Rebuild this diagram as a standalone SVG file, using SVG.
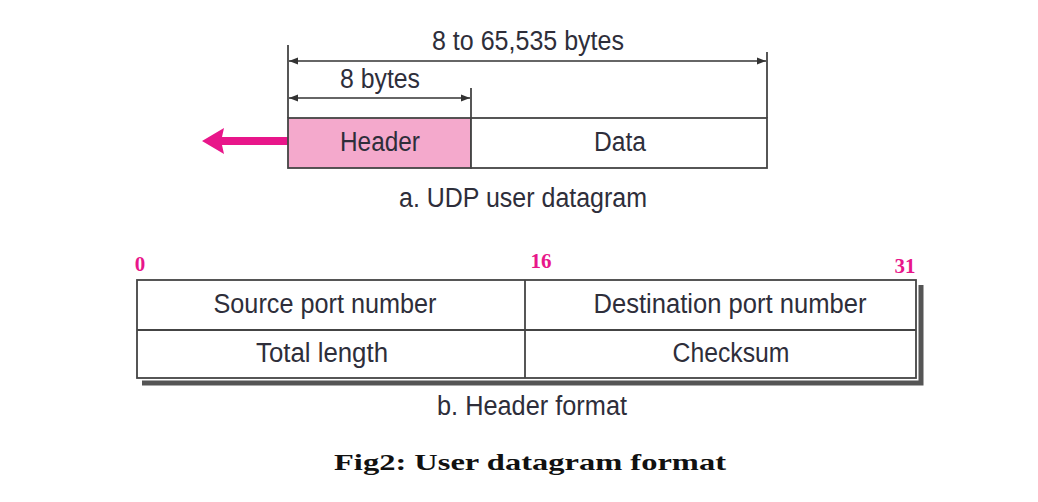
<svg xmlns="http://www.w3.org/2000/svg" width="1038" height="502" viewBox="0 0 1038 502">
<style>
.t{font-family:"Liberation Sans",Arial,sans-serif;font-size:27px;fill:#2e2e3a;text-anchor:middle}
.n{font-family:"Liberation Serif","Times New Roman",serif;font-size:21px;font-weight:bold;fill:#e8168a;text-anchor:middle}
.ln{stroke:#444;stroke-width:1.8}
.dim{stroke:#333;stroke-width:1.5;fill:none;marker-start:url(#ah);marker-end:url(#ah)}
</style>
<defs>
<marker id="ah" viewBox="0 0 10 10" refX="10" refY="5" markerWidth="9" markerHeight="9" markerUnits="userSpaceOnUse" orient="auto-start-reverse">
<path d="M0,1 L10,5 L0,9 Z" fill="#333"/>
</marker>
</defs>
<rect width="1038" height="502" fill="#fff"/>
<g id="connectors">
<line class="ln" x1="288" y1="45" x2="288" y2="118"/>
<line class="ln" x1="767" y1="52" x2="767" y2="118"/>
<line class="ln" x1="471" y1="88" x2="471" y2="118"/>
<line class="dim" x1="289" y1="61" x2="766" y2="61"/>
<line class="dim" x1="289" y1="98" x2="470" y2="98"/>
<path d="M288,137 L222,137 L224,128 L202,141 L224,154 L222,145 L288,145 Z" fill="#e8168a"/>
</g>
<g id="dim-labels">
<text class="t" x="528" y="50" textLength="192" lengthAdjust="spacingAndGlyphs">8 to 65,535 bytes</text>
<text class="t" x="380" y="88" textLength="80" lengthAdjust="spacingAndGlyphs">8 bytes</text>
</g>
<g id="header-box">
<rect x="288" y="118" width="183" height="50" style="fill:#f4a9cc" class="ln"/>
<text class="t" x="380" y="151" textLength="80" lengthAdjust="spacingAndGlyphs">Header</text>
</g>
<g id="data-box">
<rect x="471" y="118" width="296" height="50" style="fill:#fff" class="ln"/>
<text class="t" x="620" y="151" textLength="52" lengthAdjust="spacingAndGlyphs">Data</text>
</g>
<text class="t" x="523" y="207" textLength="248" lengthAdjust="spacingAndGlyphs">a. UDP user datagram</text>
<g id="bit-labels">
<text class="n" x="140" y="271">0</text>
<text class="n" x="541" y="268">16</text>
<text class="n" x="905" y="273">31</text>
</g>
<g id="header-table">
<path d="M142,383 L921,383 L921,285" stroke="#555" stroke-width="5" fill="none"/>
<rect x="137" y="280" width="779" height="98" style="fill:#fff" class="ln"/>
<line class="ln" x1="137" y1="330" x2="916" y2="330"/>
<line class="ln" x1="525" y1="280" x2="525" y2="378"/>
</g>
<g id="src-port"><text class="t" x="325" y="313" textLength="223" lengthAdjust="spacingAndGlyphs">Source port number</text></g>
<g id="dst-port"><text class="t" x="730" y="313" textLength="273" lengthAdjust="spacingAndGlyphs">Destination port number</text></g>
<g id="total-length"><text class="t" x="322" y="362" textLength="132" lengthAdjust="spacingAndGlyphs">Total length</text></g>
<g id="checksum"><text class="t" x="731" y="362" textLength="117" lengthAdjust="spacingAndGlyphs">Checksum</text></g>
<text class="t" x="532" y="415" textLength="190" lengthAdjust="spacingAndGlyphs">b. Header format</text>
<text x="530" y="470" font-family="'Liberation Serif','Times New Roman',serif" font-size="24" font-weight="bold" fill="#111" text-anchor="middle" textLength="392" lengthAdjust="spacingAndGlyphs">Fig2: User datagram format</text>
</svg>
